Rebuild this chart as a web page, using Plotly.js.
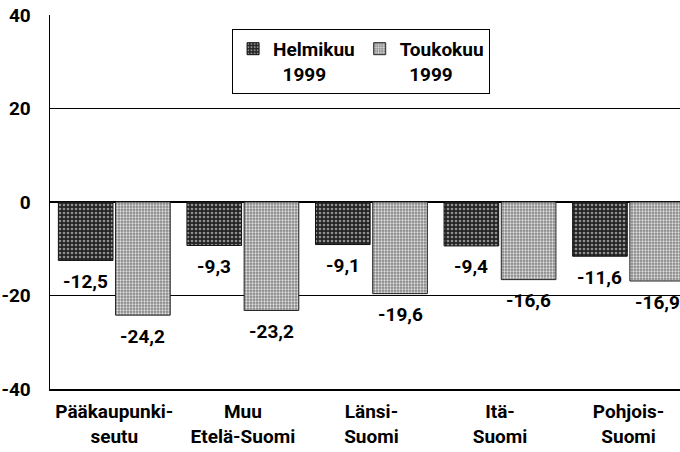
<!DOCTYPE html>
<html>
<head>
<meta charset="utf-8">
<script src="https://cdn.plot.ly/plotly-3.0.1.min.js"></script>
<style>html,body{margin:0;padding:0;background:#fff;}#chart{width:680px;height:452px;}</style>
</head>
<body>
<div id="chart"></div>
<script>
const categories = ["Pääkaupunki-<br>seutu", "Muu<br>Etelä-Suomi", "Länsi-<br>Suomi", "Itä-<br>Suomi", "Pohjois-<br>Suomi"];
const helmikuu = [-12.5, -9.3, -9.1, -9.4, -11.6];
const toukokuu = [-24.2, -23.2, -19.6, -16.6, -16.9];
const seriesNames = ["Helmikuu<br>\u00a0\u00a01999", "Toukokuu<br>\u00a0\u00a01999"];
const yTicks = [-40, -20, 0, 20, 40];

const FONT = "Roboto, 'Liberation Sans', sans-serif";
const FS = 19;
const fmt = v => v.toFixed(1).replace('.', ',');
const xIdx = categories.map((c, i) => i);

const BW = 0.425;          // bar width (category units)
const OFFS = [-0.435, 0.01];  // bar offsets within a category

const traces = [
  {
    type: 'bar', name: seriesNames[0], x: xIdx, y: helmikuu,
    width: BW, offset: OFFS[0],
    marker: {color: '#2a2a2a', line: {color: '#111', width: 1},
      pattern: {shape: '.', bgcolor: '#232323', fgcolor: '#8f8f8f', size: 4, solidity: 0.35}}
  },
  {
    type: 'bar', name: seriesNames[1], x: xIdx, y: toukokuu,
    width: BW, offset: OFFS[1],
    marker: {color: '#9a9a9a', line: {color: '#222', width: 1},
      pattern: {shape: '.', bgcolor: '#858585', fgcolor: '#dedede', size: 3, solidity: 0.45}}
  }
];

const annFont = {family: FONT, size: FS, color: '#000', weight: 'bold'};
const annotations = [];
[helmikuu, toukokuu].forEach((vals, s) => {
  vals.forEach((v, i) => {
    annotations.push({
      xref: 'x', yref: 'y', x: i + OFFS[s] + BW / 2, y: v,
      text: fmt(v), showarrow: false, yanchor: 'middle', xanchor: 'center',
      yshift: -21, font: annFont, bgcolor: 'rgba(255,255,255,0)', borderpad: 0
    });
  });
});

const layout = {
  width: 680, height: 452,
  margin: {l: 50, r: 0, t: 15, b: 63},
  paper_bgcolor: '#fff', plot_bgcolor: '#fff',
  font: {family: FONT, size: FS, color: '#000', weight: 'bold'},
  barmode: 'overlay',
  showlegend: true,
  annotations: annotations,
  legend: {
    orientation: 'h', x: 0.289, y: 0.963, xanchor: 'left', yanchor: 'top',
    bgcolor: '#fff', bordercolor: '#000', borderwidth: 1,
    font: {family: FONT, size: FS, color: '#000', weight: 'bold'},
    valign: 'top', itemwidth: 30, tracegroupgap: 0,
    traceorder: 'normal'
  },
  xaxis: {
    range: [-0.5, 4.4], tickmode: 'array', tickvals: xIdx, ticktext: categories,
    showgrid: false, zeroline: false, showline: true, linecolor: '#000', linewidth: 1.5,
    ticks: '', ticklabelstandoff: 5,
    tickfont: {family: FONT, size: FS, color: '#000', weight: 'bold'}, fixedrange: true
  },
  yaxis: {
    range: [-40, 40], tickmode: 'array', tickvals: yTicks, ticktext: yTicks.map(String),
    showgrid: true, gridcolor: '#000', gridwidth: 1,
    zeroline: true, zerolinecolor: '#000', zerolinewidth: 2,
    showline: true, linecolor: '#000', linewidth: 1.5,
    ticks: '', ticklabelstandoff: 14,
    tickfont: {family: FONT, size: FS, color: '#000', weight: 'bold'}, fixedrange: true
  }
};

Plotly.newPlot('chart', traces, layout, {staticPlot: true, displayModeBar: false});
</script>
</body>
</html>
